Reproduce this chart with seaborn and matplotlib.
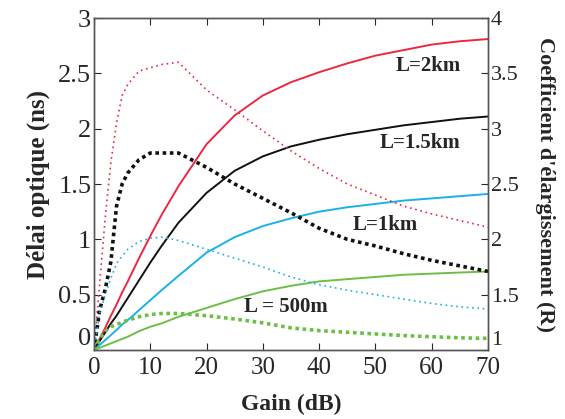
import matplotlib
matplotlib.use("Agg")
import matplotlib.pyplot as plt
import seaborn as sns

# Gain (dB) commun à toutes les courbes
gain = [0, 1, 2, 3, 4, 5, 6, 8, 10, 12, 15, 20, 25, 30, 35, 40, 45, 50, 55, 60, 65, 70]

# Délai optique (ns) - traits pleins, axe gauche
delai_2km = [0, 0.10, 0.20, 0.31, 0.41, 0.52, 0.62, 0.83, 1.03, 1.22, 1.48, 1.86, 2.12, 2.30,
             2.42, 2.51, 2.59, 2.66, 2.71, 2.76, 2.79, 2.81]
delai_15km = [0, 0.08, 0.16, 0.24, 0.31, 0.39, 0.47, 0.63, 0.79, 0.94, 1.15, 1.42, 1.62, 1.75,
              1.84, 1.90, 1.95, 1.99, 2.03, 2.06, 2.09, 2.11]
delai_1km = [0, 0.045, 0.09, 0.135, 0.18, 0.23, 0.27, 0.36, 0.45, 0.54, 0.67, 0.88, 1.02, 1.12,
             1.19, 1.25, 1.29, 1.32, 1.35, 1.37, 1.39, 1.41]
delai_500m = [0, 0.02, 0.04, 0.06, 0.08, 0.10, 0.12, 0.17, 0.21, 0.24, 0.30, 0.38, 0.46, 0.53,
              0.58, 0.62, 0.64, 0.66, 0.68, 0.69, 0.70, 0.71]

# Coefficient d'élargissement R - pointillés, axe droit
r_2km = [1, 1.60, 2.20, 2.70, 3.05, 3.30, 3.40, 3.52, 3.55, 3.58, 3.60, 3.35, 3.17, 2.98,
         2.80, 2.64, 2.50, 2.40, 2.30, 2.23, 2.17, 2.11]
r_15km = [1, 1.36, 1.55, 1.80, 2.30, 2.50, 2.60, 2.72, 2.78, 2.78, 2.78, 2.65, 2.50, 2.37,
          2.24, 2.10, 2.00, 1.94, 1.87, 1.81, 1.76, 1.71]
r_1km = [1, 1.33, 1.50, 1.65, 1.78, 1.85, 1.91, 1.98, 2.01, 2.02, 1.99, 1.91, 1.83, 1.75,
         1.66, 1.59, 1.54, 1.50, 1.46, 1.42, 1.39, 1.37]
r_500m = [1, 1.10, 1.17, 1.21, 1.23, 1.25, 1.27, 1.30, 1.32, 1.33, 1.33, 1.31, 1.28, 1.245,
          1.20, 1.175, 1.16, 1.145, 1.13, 1.12, 1.11, 1.105]

labels = ["L=2km", "L=1.5km", "L=1km", "L = 500m"]
couleurs = ["#ec2840", "#111111", "#1ab2e6", "#6cbf44"]

sns.set_style("ticks")
plt.rcParams['font.family'] = ['Liberation Serif', 'DejaVu Serif']

fig = plt.figure(figsize=(5.65, 4.19), dpi=100)
ax = fig.add_axes([0.1664, 0.1647, 0.6973, 0.7923])
ax2 = ax.twinx()

# Délai (traits pleins)
for y, c in zip([delai_2km, delai_15km, delai_1km, delai_500m], couleurs):
    sns.lineplot(x=gain, y=y, ax=ax, color=c, lw=1.4)

# Coefficient R (pointillés)
largeurs = [1.2, 2.6, 1.2, 2.6]
for y, c, lw in zip([r_2km, r_15km, r_1km, r_500m], couleurs, largeurs):
    sns.lineplot(x=gain, y=y, ax=ax2, color=c, lw=lw,
                 linestyle=(0, (1, 2.2)) if lw < 2 else (0, (1, 1)))

ax.set_xlim(0, 70)
ax.set_ylim(0, 3)
ax2.set_ylim(1, 4)
ax.set_xticks(range(0, 71, 10))
ax.set_yticks([0, 0.5, 1, 1.5, 2, 2.5, 3])
ax.set_yticklabels(["0", "0.5", "1", "1.5", "2", "2.5", "3"])
ax2.set_yticks([1, 1.5, 2, 2.5, 3, 3.5, 4])
ax2.set_yticklabels(["1", "1.5", "2", "2.5", "3", "3.5", "4"])

ax.tick_params(axis="y", direction="in", labelsize=19, length=5, pad=2)
ax.tick_params(axis="x", direction="in", labelsize=18, length=5, top=True, pad=5)
ax2.tick_params(direction="in", labelsize=16, length=5, pad=2)
for a in (ax, ax2):
    for s in a.spines.values():
        s.set_visible(True)
        s.set_color("#555555")
        s.set_linewidth(1.0)

# les "0" et "1" du bas restent au-dessus de l'axe des x
ax.get_yticklabels()[0].set_va("bottom")
ax2.get_yticklabels()[0].set_va("bottom")

ax.set_xlabel("Gain (dB)", fontsize=17, fontweight="bold", labelpad=11)
ax.set_ylabel("Délai optique (ns)", fontsize=18, fontweight="bold", labelpad=6)
ax2.set_ylabel("Coefficient d'élargissement (R)", fontsize=16, fontweight="bold",
               rotation=270, va="bottom", labelpad=12)

# Étiquettes des courbes
positions = [(59.3, 2.57), (57.9, 1.87), (51.7, 1.13), (34.0, 0.39)]
for txt, (x, y) in zip(labels, positions):
    ax.text(x, y, txt, fontsize=15, fontweight="bold", ha="center", va="center")

fig.savefig("out.png", dpi=100)
